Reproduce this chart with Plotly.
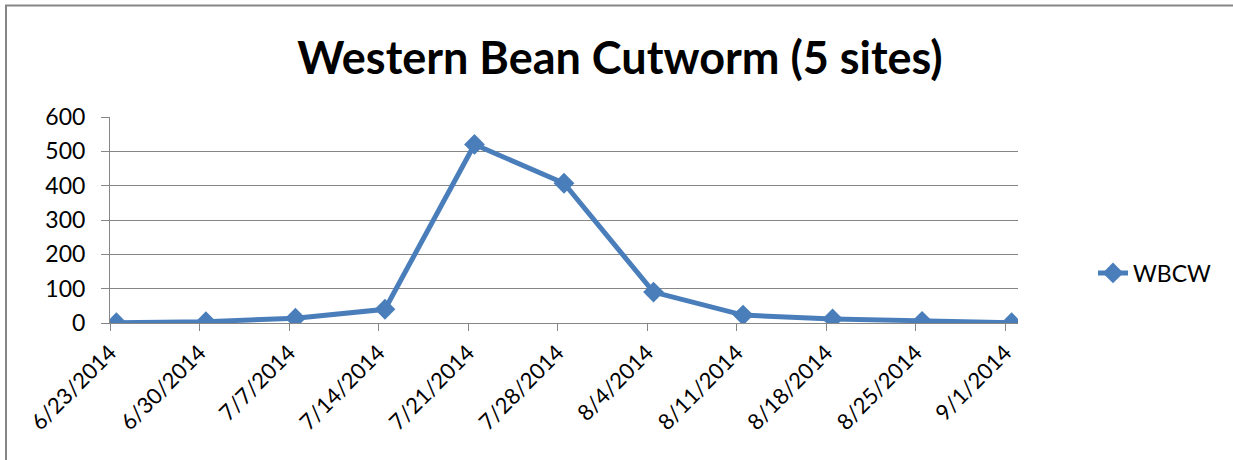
import plotly.graph_objects as go

dates = ["2014-06-23", "2014-06-30", "2014-07-07", "2014-07-14", "2014-07-21", "2014-07-28",
         "2014-08-04", "2014-08-11", "2014-08-18", "2014-08-25", "2014-09-01"]
wbcw = [1, 4, 14, 40, 520, 407, 90, 23, 12, 5, 1]
series_name = "WBCW"
title_text = "Western Bean Cutworm (5 sites)"

blue = "#4A7EBB"
grid = "#868686"
font_family = "Lato, 'Open Sans', sans-serif"

W, H = 1233, 460
L, T, PW, PH = 110, 117, 908, 206

fig = go.Figure()
fig.add_trace(go.Scatter(
    x=dates, y=wbcw, name=series_name, mode="lines+markers",
    xperiod=86400000, xperiodalignment="middle",
    line=dict(color=blue, width=5),
    marker=dict(symbol="diamond", size=16, color=blue),
))

fig.update_layout(
    width=W, height=H,
    margin=dict(l=L, r=W - L - PW, t=T, b=H - T - PH, autoexpand=False),
    paper_bgcolor="white", plot_bgcolor="white",
    font=dict(family=font_family, size=23, color="black"),
    title=dict(text="<b>" + title_text + "</b>", x=620 / W, xref="container",
               y=1 - 58 / H, yref="container", xanchor="center", yanchor="middle",
               font=dict(size=45, family=font_family, color="black")),
    showlegend=True,
    legend=dict(x=(1093 - L) / PW, y=(T + PH - 273) / PH, xanchor="left", yanchor="middle",
                font=dict(size=23), bgcolor="rgba(0,0,0,0)", itemwidth=30),
    xaxis=dict(type="date", range=["2014-06-23", "2014-09-02"],
               tick0="2014-06-23", dtick=7 * 86400000, tickformat="%-m/%-d/%Y",
               tickangle=-45, showgrid=False, showline=True, linecolor=grid, linewidth=1,
               ticks="outside", ticklen=7, tickcolor=grid, zeroline=False,
               tickfont=dict(size=22)),
    yaxis=dict(range=[0, 600], dtick=100, showgrid=True, gridcolor=grid, gridwidth=1,
               showline=True, linecolor=grid, linewidth=1, ticks="outside", ticklen=8,
               tickcolor=grid, zeroline=False, ticklabelstandoff=11),
)

fig.add_shape(type="rect", xref="paper", yref="paper",
              x0=(6 - L) / PW, x1=(1245 - L) / PW,
              y0=(T + PH - 480) / PH, y1=(T + PH - 5.5) / PH,
              line=dict(color=grid, width=2), fillcolor="rgba(0,0,0,0)", layer="below")

fig.write_html("out.html", config={"displayModeBar": False},
               post_script="document.body.style.margin='0';")
